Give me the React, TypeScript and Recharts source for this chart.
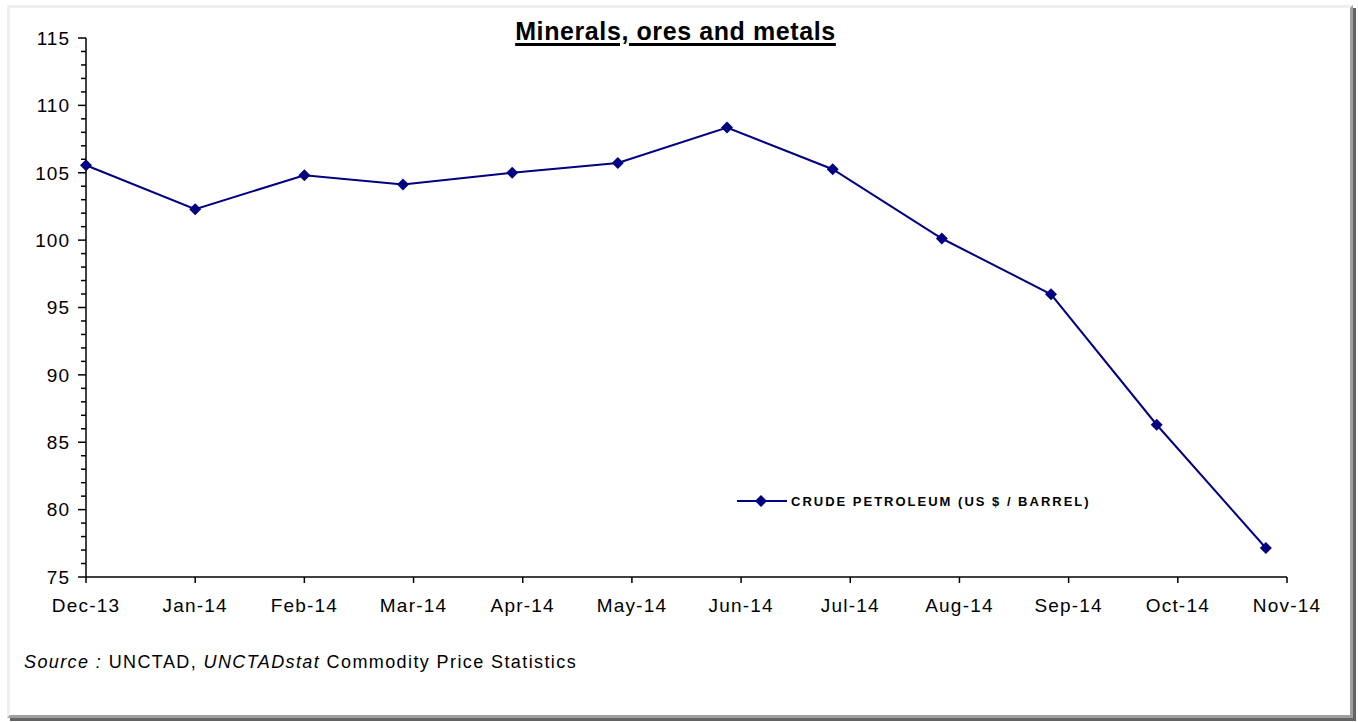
import { LineChart, Line, XAxis, YAxis } from "recharts";

const monthLabels = [
  "Dec-13", "Jan-14", "Feb-14", "Mar-14", "Apr-14", "May-14",
  "Jun-14", "Jul-14", "Aug-14", "Sep-14", "Oct-14", "Nov-14",
];
const monthDates = [
  "2013-12-01", "2014-01-01", "2014-02-01", "2014-03-01", "2014-04-01", "2014-05-01",
  "2014-06-01", "2014-07-01", "2014-08-01", "2014-09-01", "2014-10-01", "2014-11-01",
];
const crudePetroleum = [105.56, 102.3, 104.82, 104.12, 105.0, 105.72, 108.36, 105.26, 100.12, 95.98, 86.3, 77.15];

// Excel date axis: major unit of 31 days starting Dec-13
const xTickDays = [0, 31, 62, 93, 124, 155, 186, 217, 248, 279, 310, 341];
const yMajor = [75, 80, 85, 90, 95, 100, 105, 110, 115];

const DAY = 86400000;
const start = Date.parse(monthDates[0]);
const data = monthDates.map((d, i) => ({
  day: Math.round((Date.parse(d) - start) / DAY),
  value: crudePetroleum[i],
}));

const yTicks: number[] = [];
for (let v = yMajor[0]; v <= yMajor[yMajor.length - 1]; v++) yTicks.push(v);

const FONT = "'Liberation Sans', Arial, sans-serif";
const NAVY = "#000080";

const YTick = (props: any) => {
  const { x, y, payload } = props;
  const major = payload.value % 5 === 0;
  return (
    <g>
      <line x1={x - (major ? 8 : 5)} x2={x} y1={y} y2={y} stroke="#000" strokeWidth={1.5} />
      {major && (
        <text x={x - 16} y={y} dy="0.36em" textAnchor="end" fontSize={19} letterSpacing={1} fill="#000" fontFamily={FONT}>
          {payload.value}
        </text>
      )}
    </g>
  );
};

const XTick = (props: any) => {
  const { x, y, index } = props;
  return (
    <text x={x} y={y} dy="0.71em" textAnchor="middle" fontSize={19} letterSpacing={1.2} fill="#000" fontFamily={FONT}>
      {monthLabels[index]}
    </text>
  );
};

const Diamond = (props: any) => {
  const { cx, cy } = props;
  if (cx == null || cy == null) return null;
  const r = 6;
  return <path d={`M${cx},${cy - r}L${cx + r},${cy}L${cx},${cy + r}L${cx - r},${cy}Z`} fill={NAVY} />;
};

export default function App() {
  return (
    <div style={{ position: "absolute", left: 0, top: 0, width: 1358, height: 722, background: "#fff", fontFamily: FONT }}>
      <div
        style={{
          position: "absolute",
          left: 7,
          top: 5,
          width: 1340,
          height: 707,
          borderTop: "3px solid #efefef",
          borderLeft: "3px solid #efefef",
          borderRight: "3px solid #a0a0a0",
          borderBottom: "3px solid #a0a0a0",
          boxShadow: "3px 3px 0 #646464",
        }}
      />
      <div
        style={{
          position: "absolute",
          left: 0,
          width: 1351,
          top: 17,
          textAlign: "center",
          fontSize: 25,
          fontWeight: "bold",
          letterSpacing: 0.6,
          textDecoration: "underline",
          textDecorationThickness: 3,
          textUnderlineOffset: 3,
        }}
      >
        Minerals, ores and metals
      </div>
      <div style={{ position: "absolute", left: 0, top: 0 }}>
        <LineChart width={1358} height={722} data={data} margin={{ top: 38, right: 71, bottom: 115, left: 26 }}>
          <XAxis
            dataKey="day"
            type="number"
            domain={[0, 341]}
            ticks={xTickDays}
            interval={0}
            tick={<XTick />}
            tickSize={6}
            tickMargin={16}
            axisLine={{ stroke: "#000", strokeWidth: 1.5 }}
            tickLine={{ stroke: "#000", strokeWidth: 1.5 }}
            height={30}
          />
          <YAxis
            type="number"
            domain={[75, 115]}
            ticks={yTicks}
            interval={0}
            width={60}
            tick={<YTick />}
            tickSize={0}
            tickMargin={0}
            tickLine={false}
            axisLine={{ stroke: "#000", strokeWidth: 1.5 }}
          />
          <Line
            type="linear"
            dataKey="value"
            stroke={NAVY}
            strokeWidth={2}
            dot={<Diamond />}
            activeDot={false}
            isAnimationActive={false}
          />
        </LineChart>
      </div>
      <div style={{ position: "absolute", left: 737, top: 491, display: "flex", alignItems: "center" }}>
        <svg width={50} height={20}>
          <line x1={0} x2={50} y1={10} y2={10} stroke={NAVY} strokeWidth={2} />
          <path d="M24,4L30,10L24,16L18,10Z" fill={NAVY} />
        </svg>
        <span style={{ marginLeft: 4, fontSize: 13, fontWeight: "bold", letterSpacing: 2 }}>
          CRUDE PETROLEUM (US $ / BARREL)
        </span>
      </div>
      <div style={{ position: "absolute", left: 24, top: 652, fontSize: 18, letterSpacing: 1.4 }}>
        <i>Source :</i> UNCTAD, <i>UNCTADstat</i> Commodity Price Statistics
      </div>
    </div>
  );
}
